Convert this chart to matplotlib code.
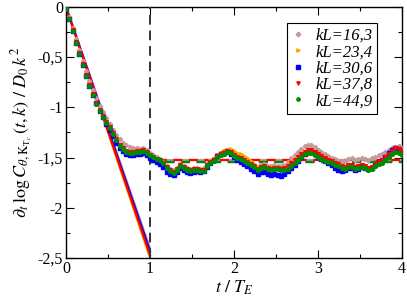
import matplotlib
matplotlib.use("Agg")
import matplotlib.pyplot as plt
import numpy as np
from matplotlib.lines import Line2D

# time grid t / T_E (sampling step)
t = np.arange(101) * 0.04

labels = ["kL=16,3", "kL=23,4", "kL=30,6", "kL=37,8", "kL=44,9"]
colors = ["#c49a9a", "#ffa500", "#0000ff", "#ff0000", "#008b00"]
markers = ["D", ">", "s", "v", "o"]

kl16 = [-0.01, -0.10, -0.21, -0.32, -0.43, -0.54, -0.64, -0.74, -0.83, -0.91,
        -0.99, -1.05, -1.11, -1.17, -1.23, -1.28, -1.32, -1.35, -1.37, -1.39,
        -1.40, -1.40, -1.41, -1.40, -1.42, -1.45, -1.47, -1.49, -1.51, -1.54,
        -1.58, -1.61, -1.62, -1.60, -1.56, -1.58, -1.60, -1.61, -1.60, -1.60,
        -1.61, -1.60, -1.56, -1.53, -1.51, -1.47, -1.45, -1.43, -1.42, -1.43,
        -1.46, -1.48, -1.49, -1.51, -1.53, -1.55, -1.57, -1.59, -1.57, -1.56,
        -1.58, -1.58, -1.57, -1.58, -1.58, -1.57, -1.54, -1.50, -1.47, -1.44,
        -1.41, -1.38, -1.37, -1.37, -1.39, -1.42, -1.44, -1.46, -1.48, -1.50,
        -1.51, -1.53, -1.54, -1.53, -1.51, -1.50, -1.52, -1.51, -1.50, -1.51,
        -1.52, -1.50, -1.49, -1.47, -1.46, -1.44, -1.42, -1.40, -1.39, -1.38,
        -1.40]
kl23 = [-0.02, -0.12, -0.23, -0.35, -0.46, -0.57, -0.68, -0.78, -0.87, -0.96,
        -1.03, -1.09, -1.15, -1.21, -1.27, -1.32, -1.37, -1.41, -1.43, -1.44,
        -1.44, -1.44, -1.43, -1.43, -1.45, -1.47, -1.49, -1.51, -1.53, -1.56,
        -1.60, -1.63, -1.64, -1.61, -1.58, -1.59, -1.61, -1.62, -1.61, -1.61,
        -1.62, -1.61, -1.57, -1.53, -1.51, -1.47, -1.45, -1.43, -1.42, -1.41,
        -1.43, -1.45, -1.46, -1.48, -1.50, -1.53, -1.56, -1.59, -1.58, -1.57,
        -1.59, -1.60, -1.60, -1.61, -1.62, -1.61, -1.59, -1.56, -1.54, -1.51,
        -1.48, -1.46, -1.44, -1.44, -1.46, -1.48, -1.50, -1.52, -1.53, -1.55,
        -1.57, -1.58, -1.60, -1.60, -1.58, -1.58, -1.60, -1.59, -1.58, -1.59,
        -1.61, -1.60, -1.57, -1.55, -1.53, -1.50, -1.47, -1.44, -1.42, -1.42,
        -1.45]
kl30 = [-0.02, -0.12, -0.24, -0.36, -0.47, -0.58, -0.69, -0.79, -0.88, -0.96,
        -1.04, -1.10, -1.17, -1.23, -1.29, -1.35, -1.40, -1.43, -1.46, -1.47,
        -1.47, -1.46, -1.46, -1.45, -1.47, -1.50, -1.52, -1.54, -1.56, -1.59,
        -1.64, -1.66, -1.67, -1.64, -1.60, -1.62, -1.64, -1.65, -1.64, -1.63,
        -1.64, -1.63, -1.59, -1.55, -1.52, -1.48, -1.46, -1.45, -1.44, -1.46,
        -1.49, -1.52, -1.54, -1.56, -1.58, -1.61, -1.63, -1.66, -1.64, -1.64,
        -1.66, -1.67, -1.66, -1.67, -1.68, -1.66, -1.63, -1.60, -1.57, -1.53,
        -1.49, -1.46, -1.44, -1.44, -1.46, -1.49, -1.51, -1.53, -1.55, -1.57,
        -1.60, -1.62, -1.63, -1.62, -1.60, -1.60, -1.62, -1.61, -1.59, -1.60,
        -1.61, -1.60, -1.57, -1.54, -1.52, -1.49, -1.45, -1.42, -1.40, -1.41,
        -1.44]
kl37 = [-0.02, -0.12, -0.23, -0.35, -0.46, -0.57, -0.68, -0.78, -0.87, -0.96,
        -1.03, -1.09, -1.15, -1.20, -1.26, -1.32, -1.37, -1.40, -1.43, -1.44,
        -1.44, -1.43, -1.43, -1.42, -1.44, -1.47, -1.49, -1.51, -1.52, -1.55,
        -1.59, -1.62, -1.64, -1.61, -1.57, -1.59, -1.61, -1.62, -1.61, -1.61,
        -1.62, -1.62, -1.57, -1.54, -1.52, -1.48, -1.46, -1.45, -1.43, -1.44,
        -1.47, -1.49, -1.50, -1.52, -1.54, -1.56, -1.58, -1.61, -1.59, -1.58,
        -1.60, -1.61, -1.60, -1.60, -1.61, -1.60, -1.58, -1.55, -1.52, -1.49,
        -1.46, -1.44, -1.42, -1.42, -1.44, -1.46, -1.48, -1.50, -1.52, -1.53,
        -1.55, -1.56, -1.58, -1.59, -1.57, -1.57, -1.59, -1.58, -1.57, -1.58,
        -1.60, -1.59, -1.56, -1.54, -1.52, -1.49, -1.46, -1.43, -1.40, -1.41,
        -1.43]
kl44 = [-0.02, -0.12, -0.24, -0.36, -0.47, -0.58, -0.69, -0.79, -0.88, -0.97,
        -1.04, -1.10, -1.16, -1.21, -1.27, -1.33, -1.38, -1.41, -1.44, -1.45,
        -1.45, -1.44, -1.44, -1.43, -1.45, -1.47, -1.49, -1.51, -1.52, -1.55,
        -1.60, -1.63, -1.65, -1.62, -1.58, -1.60, -1.62, -1.63, -1.62, -1.62,
        -1.63, -1.63, -1.58, -1.55, -1.53, -1.49, -1.47, -1.46, -1.44, -1.45,
        -1.48, -1.50, -1.51, -1.53, -1.55, -1.57, -1.59, -1.62, -1.60, -1.59,
        -1.61, -1.62, -1.61, -1.61, -1.62, -1.62, -1.61, -1.58, -1.55, -1.52,
        -1.49, -1.46, -1.45, -1.45, -1.47, -1.49, -1.51, -1.53, -1.54, -1.55,
        -1.57, -1.58, -1.60, -1.61, -1.59, -1.59, -1.61, -1.60, -1.59, -1.60,
        -1.62, -1.61, -1.58, -1.56, -1.55, -1.52, -1.49, -1.46, -1.44, -1.45,
        -1.47]
series = [kl16, kl23, kl30, kl37, kl44]

# short-time straight lines: value reached at t = T_E
line_end = [-2.40, -2.50, -2.43, -2.47]

# long-time plateau levels (dashed), drawn from t = T_E to 4
plateau = [-1.525, -1.522, -1.54, -1.528, -1.547]

plt.rcParams["font.family"] = ["Liberation Serif", "DejaVu Serif"]
plt.rcParams["mathtext.fontset"] = "stix"

fig = plt.figure(figsize=(4.07, 2.98), dpi=100)
ax = fig.add_axes([0.162, 0.134, 0.826, 0.843])

for i in range(len(line_end)):
    ax.plot([0, 1], [0, line_end[i]], color=colors[i], lw=1.6, zorder=2)

for i in [0, 2, 1, 3, 4]:
    ax.plot([1, 4], [plateau[i], plateau[i]], color=colors[i], lw=1.6,
            linestyle=((i % 2) * 3.5, (4, 3)), zorder=2)

ax.axvline(1, color="#333333", lw=1.4, linestyle=(0, (5, 3)), zorder=3)

for i, y in enumerate(series):
    ms = 2.2 if markers[i] == "D" else 2.7
    ax.plot(t, y, linestyle="none", marker=markers[i], ms=ms,
            color=colors[i], mec=colors[i], zorder=4 + i)

ax.set_xlim(0, 4)
ax.set_ylim(-2.5, 0)
ax.set_xticks([0, 1, 2, 3, 4])
ax.set_xticks(np.arange(0.5, 4, 1.0), minor=True)
ax.set_yticks([0, -0.5, -1, -1.5, -2, -2.5])
ax.set_yticklabels(["0", "-0,5", "-1", "-1,5", "-2", "-2,5"])
ax.set_yticks(np.arange(-2.25, 0, 0.5), minor=True)
ax.tick_params(which="both", direction="in", top=True, right=True,
               labelsize=11.5, width=0.8, pad=2)
ax.tick_params(which="major", length=6)
ax.tick_params(which="minor", length=3)
for sp in ax.spines.values():
    sp.set_linewidth(1.0)

ax.set_xlabel(r"$t\ /\ T_E$", fontsize=13, labelpad=1)
ax.set_ylabel(r"$\partial_t\,\log C_{\theta,\mathrm{K}_{\mathrm{T}_c}}\,(t,k)\ /\ D_0\,k^2$",
              fontsize=13, labelpad=2)

handles = [Line2D([], [], linestyle="none", marker=markers[i], color=colors[i],
                  ms=2.4) for i in range(5)]
leg = ax.legend(handles, labels, loc="upper right", bbox_to_anchor=(0.926, 0.936),
                frameon=True, fancybox=False, framealpha=1, edgecolor="black",
                borderpad=0.3, handlelength=0.8, handletextpad=0.6,
                labelspacing=0.02, borderaxespad=0,
                prop={"family": "Liberation Serif", "style": "italic", "size": 12})
leg.get_frame().set_linewidth(0.8)

fig.savefig("out.png", dpi=100)
